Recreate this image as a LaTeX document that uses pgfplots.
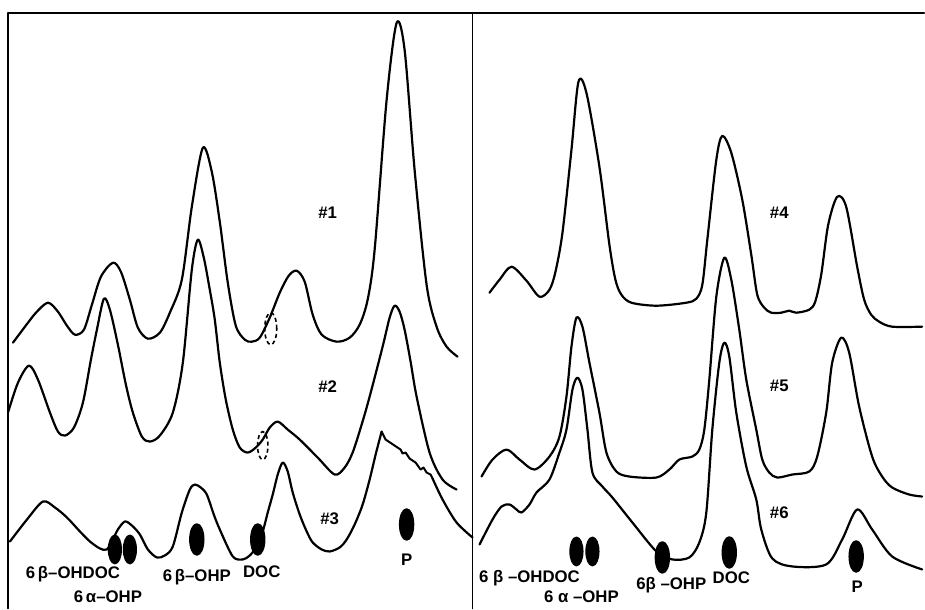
\documentclass[border=0pt]{standalone}
\usepackage{pgfplots}
\pgfplotsset{compat=1.18}
\usepackage{fontspec}
\setmainfont{Liberation Sans}
\pgfdeclareplotmark{spot}{%
  \pgfpathellipse{\pgfpointorigin}{\pgfqpoint{\pgfplotmarksize}{0pt}}{\pgfqpoint{0pt}{2.3\pgfplotmarksize}}%
  \pgfusepathqfillstroke}
\newcommand{\lab}{\fontsize{8.4}{10}\selectfont\bfseries}
\begin{document}
\begin{tikzpicture}
\begin{axis}[scale only axis, width=462.5pt, height=304.5pt,
  xmin=0, xmax=925, ymin=0, ymax=609, y dir=reverse, hide axis, clip=false,
  every axis plot/.append style={black, line width=1.1pt, line join=round, line cap=round}]
\addplot[draw=none] coordinates {(0,0) (925,609)};
% frames
\addplot[line width=0.9pt, sharp plot] coordinates {(8,609) (8,13) (925,13)};
\addplot[line width=0.9pt, sharp plot] coordinates {(473,13) (473,609)};
% trace #1
\addplot[smooth, tension=0.5] coordinates {
(13,343) (25,327) (36,313) (48,303) (58,312) (67,326) (75,335) (84,330) (92,305) (101,277) (113,263) (121,272) (130,300) (138,328) (148,339) (160,333) (170,313) (182,280) (192,207) (203,148) (212,172) (220,222) (228,283) (236,326) (245,340) (252,342) (260,338) (270,318) (280,293) (289,276) (297,271) (305,282) (313,315) (322,335) (337,342) (350,338) (360,325) (368,300) (375,250) (387,100) (397,23) (405,50) (415,170) (427,285) (437,327) (447,347) (458,357)};
% trace #2
\addplot[smooth, tension=0.5] coordinates {
(8,413) (18,383) (29,366) (38,380) (50,413) (58,432) (65,436) (74,428) (83,403) (91,360) (97,330) (104,299) (110,310) (118,345) (126,385) (133,413) (142,437) (150,442) (160,436) (173,413) (183,363) (192,270) (198,240) (204,258) (210,290) (215,320) (220,363) (226,400) (233,430) (240,448) (248,453) (256,448) (263,440) (270,428) (278,422) (288,430) (300,440) (318,458) (335,475) (345,468) (353,453) (362,425) (370,397) (383,347) (390,318) (395,306) (400,312) (405,330) (411,362) (417,397) (430,453) (443,480) (457,490)};
% trace #3
\addplot[smooth, tension=0.5] coordinates {
(10,542) (27,520) (43,502) (55,508) (67,518) (80,532) (90,542) (100,549) (107,550) (113,540) (118,530) (125,522) (132,526) (140,535) (148,550) (157,558) (165,556) (173,547) (182,513) (190,490) (195,485) (201,488) (207,495) (214,515) (220,530) (233,557) (243,560) (250,556) (257,547) (263,532) (268,513) (273,495) (278,475) (283,463) (288,472) (293,493) (300,515) (307,532) (313,543) (322,550) (330,552) (340,548) (347,540) (355,525) (363,505) (370,480) (376,455) (382,432)};
\addplot[sharp plot, line width=1pt] coordinates {
(382,432) (386,440) (395,446) (401,450) (403,454) (406,453) (410,459) (416,463) (421,470) (424,468) (427,473) (431,475) (433,479)};
\addplot[smooth] coordinates {(433,479) (443,500) (457,523) (473,538)};
% trace #4
\addplot[smooth, tension=0.5] coordinates {
(490,293) (500,280) (512,267) (527,281) (540,297) (550,290) (556,272) (563,233) (572,150) (579,82) (587,93) (600,167) (610,245) (616,280) (622,295) (632,303) (657,306) (687,303) (697,299) (703,285) (708,240) (717,160) (723,136) (732,153) (743,200) (752,255) (758,295) (765,308) (772,313) (782,313) (790,311) (797,313) (810,310) (816,302) (822,275) (829,225) (838,197) (847,207) (858,267) (865,300) (872,315) (880,322) (893,327) (923,327)};
% trace #5
\addplot[smooth, tension=0.5] coordinates {
(482,477) (493,460) (507,450) (520,460) (535,470) (550,457) (560,437) (567,397) (572,347) (577,318) (583,327) (590,363) (600,413) (607,453) (617,472) (630,477) (657,478) (670,470) (680,460) (693,457) (700,450) (705,430) (710,380) (717,297) (725,258) (732,280) (740,330) (747,380) (757,430) (763,460) (770,473) (778,478) (793,475) (810,472) (818,457) (827,413) (833,363) (842,338) (850,353) (860,407) (873,457) (883,477) (893,488) (910,495) (923,497)};
% trace #6
\addplot[smooth, tension=0.5] coordinates {
(480,545) (493,520) (502,507) (510,505) (517,510) (522,513) (530,505) (537,493) (550,480) (560,453) (567,430) (573,390) (578,378) (583,390) (588,430) (593,473) (603,487) (613,498) (633,523) (657,552) (673,560) (690,558) (700,543) (707,513) (713,430) (720,363) (725,343) (730,357) (737,413) (747,467) (757,500) (762,530) (773,559) (793,567) (827,565) (843,540) (858,510) (873,530) (893,557) (923,570)};
% spots
\addplot[only marks, mark=spot, mark size=3pt] coordinates {(115,550) (130,550) (577,552) (593,552)};
\addplot[only marks, mark=spot, mark size=3.3pt] coordinates {(197,540) (258,540) (407,525) (663,558) (730,553) (857,557)};
% dashed ellipses
\draw[line width=0.8pt, dash pattern=on 2pt off 1.5pt] (axis cs:271,329) ellipse [x radius=3pt, y radius=8pt];
\draw[line width=0.8pt, dash pattern=on 2pt off 1.5pt] (axis cs:263,446) ellipse [x radius=2.6pt, y radius=7pt];
% trace labels
\node[font=\lab] at (axis cs:328,213) {\#1};
\node[font=\lab] at (axis cs:328,387) {\#2};
\node[font=\lab] at (axis cs:330,519) {\#3};
\node[font=\lab] at (axis cs:780,213) {\#4};
\node[font=\lab] at (axis cs:780,386) {\#5};
\node[font=\lab] at (axis cs:780,513) {\#6};
% spot labels
\node[font=\lab] at (axis cs:73,575) {6\,β–OHDOC};
\node[font=\lab] at (axis cs:108,597) {6\,α–OHP};
\node[font=\lab] at (axis cs:197,578) {6\,β–OHP};
\node[font=\lab] at (axis cs:262,572) {DOC};
\node[font=\lab] at (axis cs:407,560) {P};
\node[font=\lab] at (axis cs:530,579) {6 β –OHDOC};
\node[font=\lab] at (axis cs:582,597) {6 α –OHP};
\node[font=\lab] at (axis cs:672,586) {6β –OHP};
\node[font=\lab] at (axis cs:732,578) {DOC};
\node[font=\lab] at (axis cs:858,587) {P};
\end{axis}
\end{tikzpicture}
\end{document}
